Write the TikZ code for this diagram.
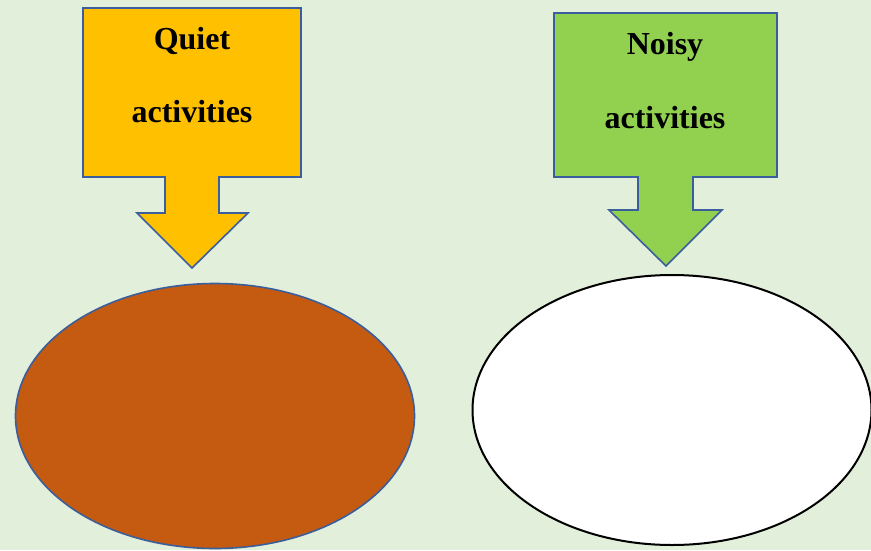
\documentclass[tikz,border=0pt]{standalone}
\usepackage{fontspec}
\setmainfont{Liberation Serif}
\usetikzlibrary{shapes.geometric}
\definecolor{bg}{HTML}{E2EFDA}
\definecolor{qfill}{HTML}{FFC000}
\definecolor{nfill}{HTML}{92D050}
\definecolor{edge}{HTML}{3B5E9C}
\definecolor{rust}{HTML}{C55A11}
\tikzset{
  callout/.style={draw=edge, line width=1.6pt, line join=miter},
  label/.style={font=\bfseries\fontsize{32}{32}\selectfont, anchor=base, inner sep=0pt},
  blob/.style={ellipse, inner sep=0pt}
}
\begin{document}
\begin{tikzpicture}[x=1pt,y=-1pt]
\fill[bg] (0,0) rectangle (871,550);
\useasboundingbox (0,0) rectangle (871,550);
% Quiet callout
\draw[callout, fill=qfill] (83,8) -- (301,8) -- (301,177) -- (219,177) -- (219,213) -- (248,213)
  -- (192,268) -- (137,213) -- (165,213) -- (165,177) -- (83,177) -- cycle;
\node[label] (q1) at (192,49) {Quiet};
\node[label] (q2) at (192,122) {activities};
% Noisy callout
\draw[callout, fill=nfill] (554,13) -- (777,13) -- (777,177) -- (693,177) -- (693,210) -- (722,210)
  -- (666,266) -- (609,210) -- (638,210) -- (638,177) -- (554,177) -- cycle;
\node[label] (n1) at (665,54) {Noisy};
\node[label] (n2) at (665,128) {activities};
% ellipses
\node[blob, draw=edge, line width=1.6pt, fill=rust, minimum width=399pt, minimum height=265pt] (e1) at (215,416) {};
\node[blob, draw=black, line width=2pt, fill=white, minimum width=399pt, minimum height=270pt] (e2) at (672,410) {};
\end{tikzpicture}
\end{document}
